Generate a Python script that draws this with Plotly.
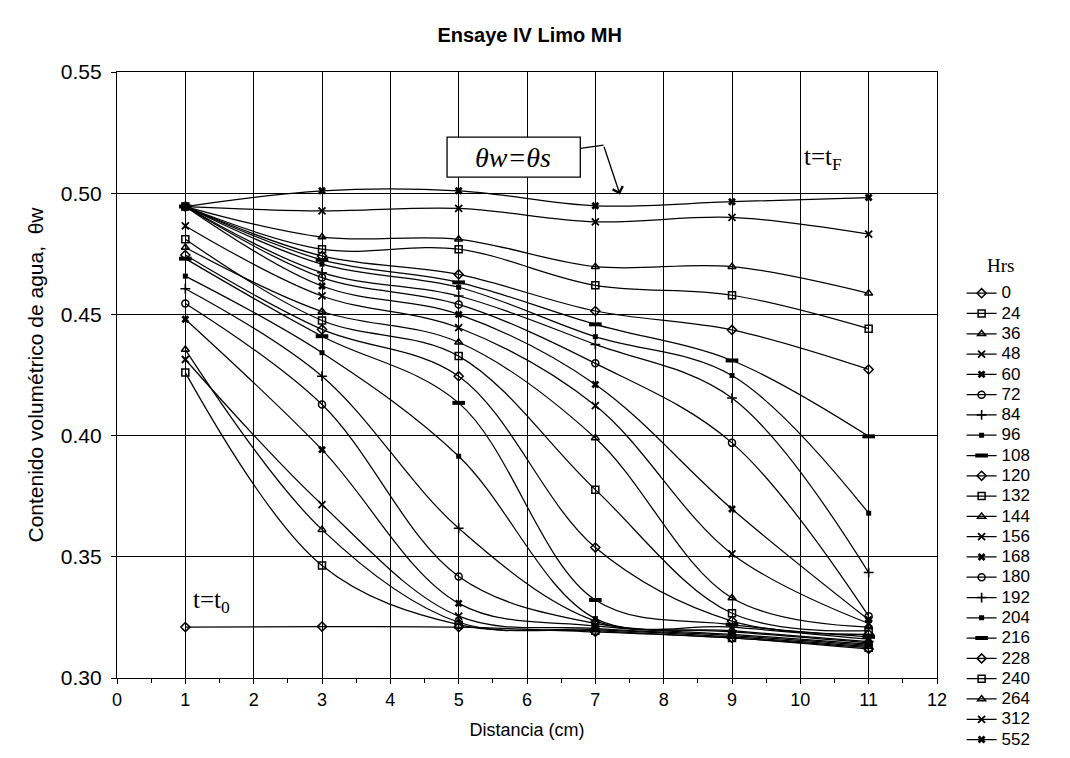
import plotly.graph_objects as go

# Measurement positions along the column (cm)
distance_cm = [1, 3, 5, 7, 9, 11]

# Elapsed time of each profile (hours)
hours = [0, 24, 36, 48, 60, 72, 84, 96, 108, 120, 132, 144,
         156, 168, 180, 192, 204, 216, 228, 240, 264, 312, 552]

# Volumetric water content at each distance, one value per profile (same order as hours)
theta_1cm = [0.321, 0.426, 0.4355, 0.4314, 0.448, 0.4545, 0.4606, 0.4658, 0.473, 0.4745, 0.481, 0.4776,
             0.4865, 0.4945, 0.4945, 0.4945, 0.4945, 0.4945, 0.4945, 0.4945, 0.4945, 0.4945, 0.4945]
theta_3cm = [0.3212, 0.3464, 0.3612, 0.3715, 0.3942, 0.4128, 0.4245, 0.4342, 0.441, 0.4438, 0.4475, 0.4512,
             0.4576, 0.4617, 0.4652, 0.4672, 0.4707, 0.4725, 0.4741, 0.4769, 0.4819, 0.4927, 0.501]
theta_5cm = [0.321, 0.322, 0.323, 0.3255, 0.3308, 0.3419, 0.3618, 0.3915, 0.4135, 0.4245, 0.4328, 0.4385,
             0.4445, 0.450, 0.4541, 0.4576, 0.4612, 0.4632, 0.4665, 0.4769, 0.481, 0.4937, 0.501]
theta_7cm = [0.319, 0.3195, 0.320, 0.3205, 0.3215, 0.3225, 0.3235, 0.3245, 0.3322, 0.3538, 0.3777, 0.399,
             0.4124, 0.4211, 0.4298, 0.4376, 0.4408, 0.4459, 0.4514, 0.462, 0.4697, 0.4882, 0.4948]
theta_9cm = [0.3165, 0.3165, 0.317, 0.3175, 0.318, 0.319, 0.3195, 0.321, 0.322, 0.3235, 0.3267, 0.333,
             0.3512, 0.3697, 0.397, 0.4155, 0.4248, 0.431, 0.4436, 0.4579, 0.4697, 0.490, 0.4965]
theta_11cm = [0.312, 0.3125, 0.313, 0.3135, 0.314, 0.3145, 0.315, 0.316, 0.317, 0.318, 0.3195, 0.321,
              0.3225, 0.324, 0.3255, 0.3435, 0.368, 0.3997, 0.4273, 0.4441, 0.4587, 0.4831, 0.4982]

# Marker cycle: (symbol, size, outline width)
marker_cycle = [
    ("diamond-open", 7, 1.5),
    ("square-open", 7, 1.5),
    ("triangle-up-open", 7, 1.5),
    ("x-thin-open", 7, 1.8),
    ("x", 7, 0),
    ("circle-open", 7, 1.5),
    ("cross-thin-open", 7, 1.6),
    ("square", 5, 0),
    ("line-ew-open", 9, 4),
]
marker_styles = marker_cycle + marker_cycle + marker_cycle[:5]

fig = go.Figure()

columns = [theta_1cm, theta_3cm, theta_5cm, theta_7cm, theta_9cm, theta_11cm]
for i, h in enumerate(hours):
    sym, size, lw = marker_styles[i]
    fig.add_trace(go.Scatter(
        x=distance_cm,
        y=[col[i] for col in columns],
        mode="lines+markers",
        name=f'<span style="font-size:17px">{h}</span>',
        line=dict(color="black", width=1.25, shape="spline", smoothing=1),
        marker=dict(symbol=sym, size=size, color="black",
                    line=dict(color="black", width=lw)),
    ))

sans = "Liberation Sans, Arial"
serif = "Liberation Serif, Times New Roman"

fig.update_xaxes(
    range=[0, 12], dtick=1, tick0=0,
    showgrid=True, gridcolor="black", gridwidth=1,
    showline=True, linecolor="black", linewidth=1.2, mirror=True,
    ticks="outside", ticklen=5, tickcolor="black",
    minor=dict(dtick=0.5, ticks="outside", ticklen=4, tickcolor="black", showgrid=False),
    tickfont=dict(family=sans, size=18, color="black"),
    title=dict(text="Distancia (cm)", font=dict(family=sans, size=18, color="black"), standoff=14),
    zeroline=False,
)
fig.update_yaxes(
    range=[0.30, 0.55], dtick=0.05, tick0=0.30, tickformat=".2f",
    showgrid=True, gridcolor="black", gridwidth=1,
    showline=True, linecolor="black", linewidth=1.2, mirror=True,
    ticks="outside", ticklen=5, tickcolor="black", ticklabelstandoff=5,
    tickfont=dict(family=sans, size=21, color="black"),
    title=dict(text="Contenido volumétrico de agua,  θw",
               font=dict(family=sans, size=21, color="black"), standoff=11),
    zeroline=False,
)

# Boxed label with arrow pointing at the saturated profile
fig.add_shape(type="rect", x0=4.83, x1=6.78, y0=0.5066, y1=0.5231,
              line=dict(color="black", width=1.3), fillcolor="white", layer="above")
fig.add_annotation(x=5.8, y=0.5148, text="<i>θw=θs</i>", showarrow=False,
                   font=dict(family=serif, size=28, color="black"))
fig.add_shape(type="line", x0=6.78, y0=0.5185, x1=7.12, y1=0.5198,
              line=dict(color="black", width=1.3), layer="above")
fig.add_annotation(x=7.36, y=0.4995, ax=7.12, ay=0.5198, axref="x", ayref="y",
                   text="", showarrow=True, arrowhead=4, arrowsize=1.6, arrowwidth=1.3,
                   arrowcolor="black")

fig.add_annotation(x=10.33, y=0.5145, text="t=t<sub>F</sub>", showarrow=False,
                   font=dict(family=serif, size=25, color="black"))
fig.add_annotation(x=1.39, y=0.3315, text="t=t<sub>0</sub>", showarrow=False,
                   font=dict(family=serif, size=25, color="black"))

# Legend heading
fig.add_annotation(x=1.078, y=0.7015, xref="paper", yref="paper", text="Hrs",
                   showarrow=False, xanchor="center",
                   font=dict(family=serif, size=19, color="black"))

fig.update_layout(
    width=1070, height=758,
    margin=dict(l=117, r=133, t=72, b=80, autoexpand=False),
    paper_bgcolor="white", plot_bgcolor="white",
    title=dict(text="<b>Ensaye IV Limo MH</b>", x=0.495, xanchor="center",
               y=0.954, yanchor="middle",
               font=dict(family=sans, size=20, color="black")),
    legend=dict(
        x=1.03, y=0.66, xanchor="left", yanchor="top",
        font=dict(family=sans, size=13.3, color="black"),
        bgcolor="rgba(0,0,0,0)", borderwidth=0,
        tracegroupgap=0,
    ),
    showlegend=True,
)

fig.write_html("out.html")
